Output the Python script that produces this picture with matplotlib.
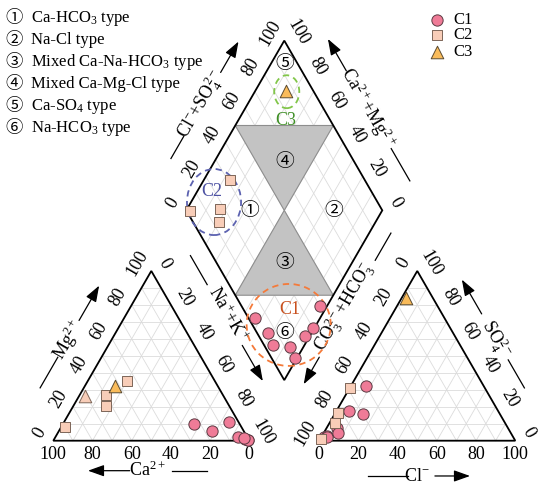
import numpy as np
import matplotlib
matplotlib.use('Agg')
import matplotlib.pyplot as plt
from matplotlib.patches import Polygon, Ellipse

plt.rcParams['font.family'] = ['Liberation Serif', 'Noto Sans CJK SC', 'DejaVu Sans']
plt.rcParams['mathtext.fontset'] = 'custom'
plt.rcParams['mathtext.rm'] = 'Liberation Serif'
plt.rcParams['mathtext.it'] = 'Liberation Serif:italic'
plt.rcParams['mathtext.bf'] = 'Liberation Serif:bold'

# ---------------- data (meq %) ----------------
c1_ca   = [23.0, 16.5, 5.0, 5.0, 0.5, 1.5, 0.5, 2.0]
c1_mg   = [10.0, 5.5, 11.0, 2.0, 0.5, 1.0, 0.3, 1.6]
c1_nak  = [67.0, 78.0, 84.0, 93.0, 99.0, 97.5, 99.2, 96.4]
c1_hco3 = [96.5, 94.4, 95.3, 87.4, 88.1, 76.3, 70.0, 60.0]
c1_so4  = [2.0, 3.0, 2.0, 7.3, 4.4, 17.5, 15.5, 32.0]
c1_cl   = [1.5, 2.6, 2.7, 5.3, 7.5, 6.2, 14.5, 8.0]

c2_ca   = [90.0, 63.0, 59.7, 45.0]
c2_mg   = [8.0, 20.2, 26.9, 35.1]
c2_nak  = [2.0, 16.8, 13.4, 19.9]
c2_hco3 = [98.5, 82.3, 68.9, 86.7]
c2_so4  = [1.0, 16.5, 30.9, 10.6]
c2_cl   = [0.5, 1.2, 0.2, 2.7]

c3_ca   = [52.4]
c3_mg   = [32.2]
c3_nak  = [15.4]
c3_hco3 = [14.0]
c3_so4  = [84.0]
c3_cl   = [2.0]

# extra triangle shown only in the cation triangle
x_ca  = [70.6]
x_mg  = [26.3]
x_nak = [3.1]

tick_values = [0, 20, 40, 60, 80, 100]
type_numbers = ['①', '②', '③', '④', '⑤', '⑥']
type_names = ['Ca-HCO$_3$ type', 'Na-Cl type', 'Mixed Ca-Na-HCO$_3$ type',
              'Mixed Ca-Mg-Cl type', 'Ca-SO$_4$ type', 'Na-HCO$_3$ type']
group_names = ['C1', 'C2', 'C3']

# ---------------- geometry ----------------
h = np.sqrt(3) / 2
g = 0.357
S = 196.0
X0, Y0 = 53.3, 440.7

def P(px, py):
    return ((px - X0) / S, (Y0 - py) / S)

def cat_xy(ca, mg, nak):
    ca, mg, nak = (np.asarray(a, float) for a in (ca, mg, nak))
    t = ca + mg + nak
    return (nak + 0.5 * mg) / t, h * mg / t

def an_xy(hco3, so4, cl):
    hco3, so4, cl = (np.asarray(a, float) for a in (hco3, so4, cl))
    t = hco3 + so4 + cl
    return 1 + g + (cl + 0.5 * so4) / t, h * so4 / t

def dia_xy(u, v):
    u = np.asarray(u, float); v = np.asarray(v, float)
    return 1 + g / 2 + 0.5 * (v - u), g * h + h * (u + v)

def dia_from(ca, mg, nak, hco3, so4, cl):
    ca, mg, nak = (np.asarray(a, float) for a in (ca, mg, nak))
    hco3, so4, cl = (np.asarray(a, float) for a in (hco3, so4, cl))
    u = (ca + mg) / (ca + mg + nak)
    v = (so4 + cl) / (hco3 + so4 + cl)
    return dia_xy(u, v)

fig = plt.figure(figsize=(5.5, 4.92), dpi=100)
ax = fig.add_axes([0, 0, 1, 1])
ax.set_xlim(-X0 / S, (550 - X0) / S)
ax.set_ylim((Y0 - 492) / S, Y0 / S)
ax.axis('off')

# grid
gc, glw = '#dcdcdc', 0.6
for f in range(10, 100, 10):
    segs = [((100 - f, f, 0), (0, f, 100 - f)),
            ((f, 100 - f, 0), (f, 0, 100 - f)),
            ((0, 100 - f, f), (100 - f, 0, f))]
    for a, b in segs:
        x1, y1 = cat_xy(*a); x2, y2 = cat_xy(*b)
        ax.plot([x1, x2], [y1, y2], color=gc, lw=glw, zorder=1)
        x1, y1 = an_xy(*a); x2, y2 = an_xy(*b)
        ax.plot([x1, x2], [y1, y2], color=gc, lw=glw, zorder=1)
    fr = f / 100
    for a, b in [((fr, 0), (fr, 1)), ((0, fr), (1, fr))]:
        x1, y1 = dia_xy(*a); x2, y2 = dia_xy(*b)
        ax.plot([x1, x2], [y1, y2], color=gc, lw=glw, zorder=1)

# shaded regions
for poly in ([(0.5, 0.5), (1, 0.5), (0.5, 1)], [(0.5, 0.5), (0, 0.5), (0.5, 0)]):
    pts = [dia_xy(u, v) for u, v in poly]
    ax.add_patch(Polygon(pts, closed=True, facecolor='#c3c3c3', edgecolor='#8e8e8e',
                         lw=0.8, zorder=2))

# outlines
A1 = np.array(cat_xy(100, 0, 0)); B1 = np.array(cat_xy(0, 0, 100)); T1 = np.array(cat_xy(0, 100, 0))
A2 = np.array(an_xy(100, 0, 0)); B2 = np.array(an_xy(0, 0, 100)); T2 = np.array(an_xy(0, 100, 0))
DB = np.array(dia_xy(0, 0)); DL = np.array(dia_xy(1, 0)); DR = np.array(dia_xy(0, 1)); DT = np.array(dia_xy(1, 1))
for poly in ([A1, B1, T1], [A2, B2, T2], [DB, DL, DT, DR]):
    ax.add_patch(Polygon(poly, closed=True, fill=False, edgecolor='black', lw=1.3, zorder=3))

# tick labels
nL = np.array([-np.sqrt(3) / 2, 0.5])
nR = np.array([np.sqrt(3) / 2, 0.5])
nD = np.array([0.0, -1.0])
def side_ticks(p0, p1, normal, rot, off):
    for v in tick_values:
        p = p0 + (v / 100) * (p1 - p0) + off * normal
        ax.text(p[0], p[1], str(v), rotation=rot, ha='center', va='center',
                fontsize=13, rotation_mode='anchor', zorder=5)

side_ticks(B1, A1, nD, 0, 0.068)     # Ca
side_ticks(A1, T1, nL, 60, 0.08)     # Mg
side_ticks(T1, B1, nR, -60, 0.08)    # Na+K
side_ticks(A2, B2, nD, 0, 0.068)     # Cl
side_ticks(T2, A2, nL, 60, 0.08)     # CO3+HCO3
side_ticks(B2, T2, nR, -60, 0.08)    # SO4
side_ticks(DL, DT, nL, 60, 0.08)     # Cl+SO4
side_ticks(DR, DT, nR, -60, 0.08)    # Ca+Mg

# axis titles with arrows
def axis_label(p0, p1, normal, text, rot, t_text, n_text, line_t, arrow_t, n_line):
    d = p1 - p0
    c = p0 + t_text * d + n_text * normal
    ax.text(c[0], c[1], text, rotation=rot, ha='center', va='center', fontsize=13,
            rotation_mode='anchor', zorder=5)
    a = p0 + line_t[0] * d + n_line * normal
    b = p0 + line_t[1] * d + n_line * normal
    ax.plot([a[0], b[0]], [a[1], b[1]], color='black', lw=0.9, zorder=5)
    a = p0 + arrow_t[0] * d + n_line * normal
    b = p0 + arrow_t[1] * d + n_line * normal
    ax.annotate('', xy=b, xytext=a,
                arrowprops=dict(arrowstyle='-|>,head_length=0.7,head_width=0.25',
                                color='black', lw=0.9, shrinkA=0, shrinkB=0,
                                mutation_scale=14), zorder=5)

axis_label(A1, B1, nD, 'Ca$^{2+}$', 0, 0.478, 0.150, (0.604, 0.782), (0.39, 0.177), 0.153)
axis_label(A1, T1, nL, 'Mg$^{2+}$', 60, 0.483, 0.192, (0.20, 0.38), (0.597, 0.802), 0.193)
axis_label(A2, B2, nD, 'Cl$^{-}$', 0, 0.497, 0.184, (0.248, 0.452), (0.59, 0.769), 0.180)
axis_label(B2, T2, nR, 'SO$_4^{2-}$', -60, 0.498, 0.170, (0.21, 0.375), (0.646, 0.848), 0.175)
axis_label(DL, DT, nL, 'Cl$^{-}$+SO$_4^{2-}$', 60, 0.505, 0.205, (0.19, 0.32), (0.697, 0.879), 0.200)
axis_label(DR, DT, nR, 'Ca$^{2+}$+Mg$^{2+}$', -60, 0.49, 0.195, (0.06, 0.25), (0.708, 0.896), 0.197)
axis_label(T1, B1, nR, 'Na$^{+}$+K$^{+}$', -60, 0.386, 0.228, (0.032, 0.203), (0.561, 0.771), 0.212)
axis_label(T2, A2, nL, 'CO$_3^{2-}$+HCO$_3^{-}$', 60, 0.345, 0.228, (-0.10, 0.06), (0.631, 0.79), 0.213)

# shaded-region numbers
num_pos = [(0.675, 0.325), (0.25, 0.75), (0.345, 0.345), (0.643, 0.643), (0.934, 0.934), (0.139, 0.139)]
for lab, (u, v) in zip(type_numbers, num_pos):
    x, y = dia_xy(u, v)
    ax.text(x, y, lab, ha='center', va='center', fontsize=13.5, zorder=6,
            family=['Noto Sans CJK SC', 'DejaVu Sans'])

# group ellipses
ell = [('C1', (0.140, 0.185), 0.429, 0.418, '#f47a3a', '#c8501e', (0.1795, 0.2375)),
       ('C2', (0.883, 0.166), 0.276, 0.337, '#5c62b0', '#4d52a3', (0.925, 0.184)),
       ('C3', (0.837, 0.862), 0.128, 0.168, '#82c64a', '#3f8f26', (0.757, 0.774))]
for name, (u, v), w, hh, ec, tc, (lu, lv) in ell:
    cx, cy = dia_xy(u, v)
    ax.add_patch(Ellipse((cx, cy), w, hh, fill=False, edgecolor=ec, lw=1.3,
                         ls=(0, (3.5, 2.5)), zorder=7))
    lx, ly = dia_xy(lu, lv)
    ax.text(lx, ly, name, color=tc, ha='center', va='center', fontsize=13, zorder=7)

# markers
styles = {'C1': dict(marker='o', s=66, facecolor='#ef7b97', edgecolor='#5b3b43', linewidths=0.7),
          'C2': dict(marker='s', s=54, facecolor='#f8cdb8', edgecolor='#7d6658', linewidths=0.7),
          'C3': dict(marker='^', s=82, facecolor='#f9bb5a', edgecolor='#5a4a30', linewidths=0.7)}
data = {'C1': (c1_ca, c1_mg, c1_nak, c1_hco3, c1_so4, c1_cl),
        'C2': (c2_ca, c2_mg, c2_nak, c2_hco3, c2_so4, c2_cl),
        'C3': (c3_ca, c3_mg, c3_nak, c3_hco3, c3_so4, c3_cl)}
for name in group_names:
    ca, mg, nak, hco3, so4, cl = data[name]
    st = styles[name]
    x, y = cat_xy(ca, mg, nak); ax.scatter(x, y, zorder=8, **st)
    x, y = an_xy(hco3, so4, cl); ax.scatter(x, y, zorder=8, **st)
    x, y = dia_from(ca, mg, nak, hco3, so4, cl); ax.scatter(x, y, zorder=8, **st)
x, y = cat_xy(x_ca, x_mg, x_nak)
ax.scatter(x, y, marker='^', s=82, facecolor='#f8cdb8', edgecolor='#7d6658', linewidths=0.7, zorder=8)

# legend (groups)
for i, name in enumerate(group_names):
    mx, my = P(437, 19.5 + i * 16)
    ax.scatter([mx], [my], zorder=8, clip_on=False, **styles[name])
    tx, ty = P(453, 19.5 + i * 16)
    ax.text(tx, ty, name, ha='left', va='center', fontsize=12)

# legend (water types)
for i, (num, name) in enumerate(zip(type_numbers, type_names)):
    yy = 18.5 + i * 22
    fig.text(14 / 550, 1 - yy / 492, num, ha='center', va='center', fontsize=12.5,
             family=['Noto Sans CJK SC', 'DejaVu Sans'])
    fig.text(31 / 550, 1 - yy / 492, name, ha='left', va='center', fontsize=12)

fig.savefig('out.png', dpi=100)
